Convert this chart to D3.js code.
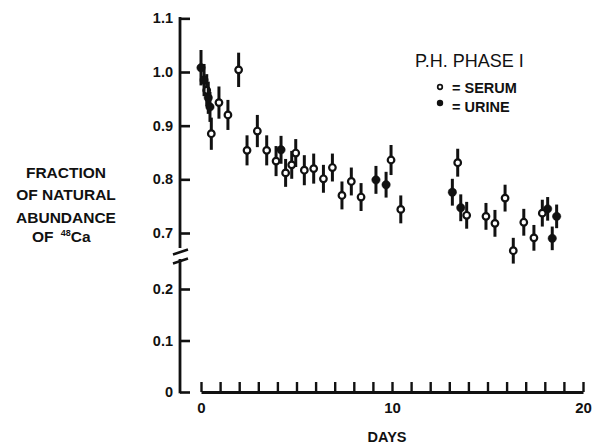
<!DOCTYPE html>
<html>
<head>
<meta charset="utf-8">
<script src="https://cdn.jsdelivr.net/npm/d3@7"></script>
<style>
  body { margin: 0; background: #fff; }
  svg { display: block; }
  text { font-family: "Liberation Sans", Arial, sans-serif; fill: #111; }
</style>
</head>
<body>
<div id="container"></div>
<script>
var totalWidth = 598,
    totalHeight = 446;

// serum = open circles
var serumDays = [0.30, 0.54, 0.94, 1.41, 1.97, 2.41, 2.95, 3.44, 3.93, 4.43, 4.75, 4.96,
                 5.41, 5.90, 6.41, 6.88, 7.38, 7.87, 8.38, 9.95, 10.46, 13.44, 13.91,
                 14.92, 15.39, 15.92, 16.35, 16.90, 17.43, 17.87];
var serumValues = [0.966, 0.885, 0.943, 0.920, 1.004, 0.854, 0.890, 0.854, 0.834, 0.812, 0.827, 0.849,
                   0.817, 0.820, 0.801, 0.822, 0.770, 0.796, 0.767, 0.836, 0.744, 0.831, 0.733,
                   0.731, 0.718, 0.765, 0.667, 0.720, 0.691, 0.737];
var serumErr = [0.03, 0.03, 0.03, 0.028, 0.032, 0.028, 0.03, 0.028, 0.028, 0.026, 0.026, 0.026,
                0.028, 0.028, 0.026, 0.026, 0.026, 0.026, 0.026, 0.028, 0.026, 0.026, 0.025,
                0.025, 0.025, 0.025, 0.024, 0.025, 0.024, 0.025];

// urine = filled circles
var urineDays = [0.00, 0.16, 0.38, 0.47, 4.19, 9.16, 9.69, 13.16, 13.60, 18.15, 18.39, 18.62];
var urineValues = [1.008, 0.985, 0.952, 0.935, 0.855, 0.799, 0.790, 0.776, 0.747, 0.745, 0.690, 0.731];
var urineErr = [0.033, 0.03, 0.03, 0.028, 0.026, 0.026, 0.024, 0.025, 0.025, 0.022, 0.022, 0.022];

var upperTicks = [0.7, 0.8, 0.9, 1.0, 1.1];
var lowerTicks = [0, 0.1, 0.2];
var dayTicks = d3.range(0, 21);
var dayLabels = [0, 10, 20];

var xScale = d3.scaleLinear().domain([0, 20]).range([201, 583]);
var yHigh = d3.scaleLinear().domain([0.7, 1.0]).range([233, 72]);
var yLow = d3.scaleLinear().domain([0, 0.2]).range([392, 289]);

var svg = d3.select("#container")
            .append("svg")
            .attr("width", totalWidth)
            .attr("height", totalHeight);

var axisX = 180;

// y axis, upper part
var yAxisHigh = d3.axisLeft(yHigh)
                  .tickValues(upperTicks)
                  .tickSize(-10)
                  .tickPadding(8)
                  .tickFormat(d3.format(".1f"));
var gHigh = svg.append("g").attr("transform", "translate(" + axisX + ",0)").call(yAxisHigh);

var yAxisLow = d3.axisLeft(yLow)
                 .tickValues(lowerTicks)
                 .tickSize(-10)
                 .tickPadding(8)
                 .tickFormat(function(d) { return d === 0 ? "0" : d3.format(".1f")(d); });
var gLow = svg.append("g").attr("transform", "translate(" + axisX + ",0)").call(yAxisLow);

[gHigh, gLow].forEach(function(g) {
  g.select(".domain").remove();
  g.selectAll(".tick line").attr("stroke", "#111").attr("stroke-width", 2.6);
  g.selectAll(".tick text").attr("font-size", 14.5).attr("font-weight", "bold").attr("dx", 1);
});

// spines with break
svg.append("line").attr("x1", axisX).attr("x2", axisX)
   .attr("y1", yHigh(1.1) - 1.3).attr("y2", 248)
   .attr("stroke", "#111").attr("stroke-width", 2.8);
svg.append("line").attr("x1", axisX).attr("x2", axisX)
   .attr("y1", 259).attr("y2", yLow(0) + 1.3)
   .attr("stroke", "#111").attr("stroke-width", 2.8);
[252, 261].forEach(function(y) {
  svg.append("line").attr("x1", 173).attr("x2", 188)
     .attr("y1", y + 2.5).attr("y2", y - 2.5)
     .attr("stroke", "#111").attr("stroke-width", 2.4);
});

// x axis
var xAxis = d3.axisBottom(xScale)
              .tickValues(dayTicks)
              .tickSize(-10)
              .tickSizeOuter(0)
              .tickPadding(10)
              .tickFormat(function(d) { return dayLabels.indexOf(d) >= 0 ? d : ""; });
var gx = svg.append("g").attr("transform", "translate(0," + yLow(0) + ")").call(xAxis);
gx.select(".domain").attr("stroke", "#111").attr("stroke-width", 2.8);
gx.selectAll(".tick line").attr("stroke", "#111").attr("stroke-width", 2.4);
gx.selectAll(".tick text").attr("font-size", 15).attr("font-weight", "bold");

svg.append("text")
   .attr("x", 387).attr("y", 442)
   .attr("text-anchor", "middle")
   .attr("font-size", 14.5).attr("font-weight", "bold")
   .text("DAYS");

// y label
var yLabel = svg.append("g").attr("font-size", 15.5).attr("font-weight", "bold");
["FRACTION", "OF NATURAL", "ABUNDANCE"].forEach(function(s, i) {
  yLabel.append("text")
        .attr("x", 66).attr("y", 178 + i * 22.3)
        .attr("text-anchor", "middle")
        .text(s);
});
var ca = yLabel.append("text").attr("x", 32).attr("y", 242);
ca.append("tspan").text("OF ");
ca.append("tspan").attr("font-size", 9).attr("dy", -6).attr("dx", 3).text("48");
ca.append("tspan").attr("dy", 6).text("Ca");

// data
function drawSeries(days, values, errs, filled) {
  var data = days.map(function(d, i) { return {day: d, v: values[i], e: errs[i]}; });
  var g = svg.append("g");
  g.selectAll(".err").data(data).enter()
   .append("line").attr("class", "err")
   .attr("x1", function(d) { return xScale(d.day); })
   .attr("x2", function(d) { return xScale(d.day); })
   .attr("y1", function(d) { return yHigh(d.v + d.e); })
   .attr("y2", function(d) { return yHigh(d.v - d.e); })
   .attr("stroke", "#111").attr("stroke-width", 3);
  g.selectAll(".pt").data(data).enter()
   .append("circle").attr("class", "pt")
   .attr("cx", function(d) { return xScale(d.day); })
   .attr("cy", function(d) { return yHigh(d.v); })
   .attr("r", filled ? 4.2 : 3.3)
   .attr("fill", filled ? "#111" : "#fff")
   .attr("stroke", "#111")
   .attr("stroke-width", filled ? 0.5 : 2.2);
}
drawSeries(serumDays, serumValues, serumErr, false);
drawSeries(urineDays, urineValues, urineErr, true);

// legend
var legend = svg.append("g");
legend.append("text").attr("x", 415).attr("y", 66.5).attr("font-size", 18).text("P.H. PHASE I");
legend.append("circle").attr("cx", 440).attr("cy", 87).attr("r", 2.3)
      .attr("fill", "#fff").attr("stroke", "#111").attr("stroke-width", 1.7);
legend.append("text").attr("x", 452).attr("y", 92.5).attr("font-size", 14.5).attr("font-weight", "bold").text("= SERUM");
legend.append("circle").attr("cx", 440).attr("cy", 103).attr("r", 3.2).attr("fill", "#111");
legend.append("text").attr("x", 452).attr("y", 111.5).attr("font-size", 14.5).attr("font-weight", "bold").text("= URINE");
</script>
</body>
</html>
